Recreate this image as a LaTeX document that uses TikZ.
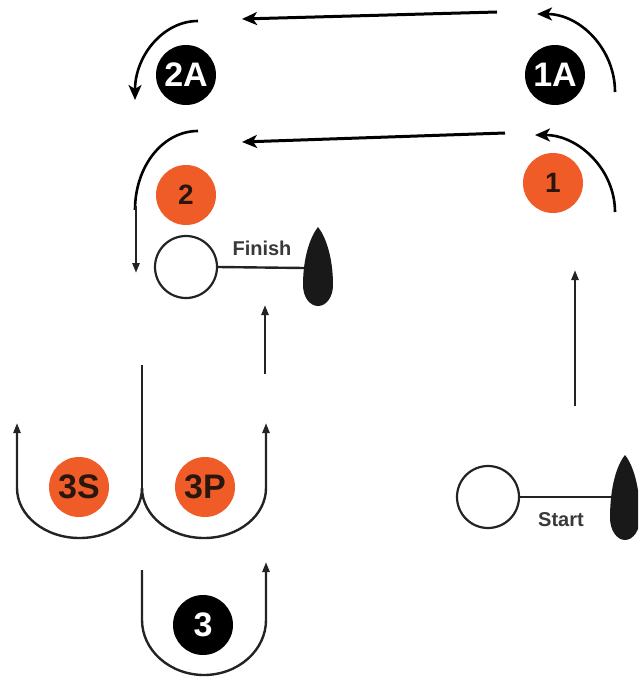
\documentclass[tikz,border=0pt]{standalone}
\usepackage{fontspec}
\setmainfont{Liberation Sans}
\usetikzlibrary{arrows.meta}
\definecolor{mkorange}{RGB}{240,92,40}
\definecolor{ink}{RGB}{35,35,35}
\definecolor{numdark}{RGB}{40,22,15}
\begin{document}
\begin{tikzpicture}[x=1pt,y=-1pt,
  buoyo/.style={circle,fill=mkorange,minimum size=60pt,inner sep=0pt,text=numdark,font=\bfseries\fontsize{28}{28}\selectfont},
  buoyb/.style={circle,fill=black,minimum size=60pt,inner sep=0pt,text=white,font=\bfseries\fontsize{34}{34}\selectfont},
  heavy/.style={line width=3pt,draw=black,-{Stealth[length=15pt,width=13pt,inset=4pt]}},
  heavyarc/.style={line width=2.6pt,draw=black},
  lite/.style={line width=2.4pt,draw=ink,-{Triangle[length=10pt,width=7pt]}},
  liteline/.style={line width=2.4pt,draw=ink},
  markcircle/.style={circle,draw=ink,line width=2.2pt,fill=white,minimum size=62pt,inner sep=0pt},
  boatlabel/.style={text=ink!90,font=\bfseries\fontsize{20}{20}\selectfont,inner sep=0pt}
]
\clip (0,0) rectangle (638,677);
\fill[white] (0,0) rectangle (638,677);

% buoys
\node[buoyb] (b1A) at (555,75) {1A};
\node[buoyb] (b2A) at (186,75) {2A};
\node[buoyo] (b1) at (553,183) {1};
\node[buoyo] (b2) at (186,195) {2};
\node[buoyo,font=\bfseries\fontsize{34}{34}\selectfont] (b3S) at (79,487) {3S};
\node[buoyo,font=\bfseries\fontsize{34}{34}\selectfont] (b3P) at (205,487) {3P};
\node[buoyb] (b3) at (203,625) {3};

% top legs
\coordinate (t1s) at (497,12);
\coordinate (t1e) at (242,19);
\coordinate (t2s) at (505,133);
\coordinate (t2e) at (242,142);
\draw[heavy] (t1s) -- (t1e);
\draw[heavy] (t2s) -- (t2e);

% rounding arcs
\coordinate (a1As) at (615,92);
\coordinate (a1Ae) at (537,14);
\draw[heavyarc,-{Stealth[length=15pt,width=13pt,inset=4pt]}] (a1As) .. controls (615,49) and (580,14) .. (a1Ae);
\coordinate (a1s) at (615,212);
\coordinate (a1e) at (535,135);
\draw[heavyarc,-{Stealth[length=15pt,width=13pt,inset=4pt]}] (a1s) .. controls (615,170) and (579,135) .. (a1e);
\coordinate (a2As) at (198,21);
\coordinate (a2Ae) at (135,100);
\draw[heavyarc,-{Stealth[length=15pt,width=13pt,inset=4pt]}] (a2As) .. controls (163,21) and (135,56) .. (a2Ae);
\coordinate (a2s) at (198,131);
\coordinate (a2m) at (135,210);
\coordinate (a2e) at (136,273);
\draw[heavyarc] (a2s) .. controls (163,131) and (135,166) .. (a2m);
\draw[lite] (136,206) -- (a2e);

% finish line
\node[markcircle] (fin) at (186,267) {};
\coordinate (fboat) at (304,268);
\draw[liteline] (fin.east) -- (fboat);
\fill[black!90] (318,227) .. controls (310,237) and (303,258) .. (303,285)
  .. controls (303,297) and (309.7,306) .. (318,306)
  .. controls (326.3,306) and (333,297) .. (333,285)
  .. controls (333,258) and (326,237) .. (318,227) -- cycle;
\node[boatlabel] (finlbl) at (262,248) {Finish};
\coordinate (fa1) at (265,374);
\coordinate (fa2) at (265,305);
\draw[lite] (fa1) -- (fa2);

% start line
\node[markcircle] (st) at (488,497) {};
\coordinate (sboat) at (611,497);
\draw[liteline] (st.east) -- (sboat);
\fill[black!90] (625,455) .. controls (617,465) and (610,486) .. (610,518)
  .. controls (610,530) and (616.7,540) .. (625,540)
  .. controls (633.3,540) and (640,530) .. (640,518)
  .. controls (640,486) and (633,465) .. (625,455) -- cycle;
\node[boatlabel] (stlbl) at (561,520) {Start};
\coordinate (sa1) at (575,406);
\coordinate (sa2) at (575,270);
\draw[lite] (sa1) -- (sa2);

% gate 3S / 3P
\coordinate (ctop) at (142,365);
\coordinate (cusp) at (142,488);
\draw[liteline] (ctop) -- (cusp);
\coordinate (l3S) at (17,423);
\coordinate (l3P) at (266,423);
\draw[lite] (cusp) .. controls (142,515.6) and (114,538) .. (79.5,538)
  .. controls (45,538) and (17,515.6) .. (17,488) -- (l3S);
\draw[lite] (cusp) .. controls (142,515.6) and (170,538) .. (204,538)
  .. controls (238.5,538) and (266,515.6) .. (266,488) -- (l3P);

% mark 3
\coordinate (u3s) at (142,570);
\coordinate (u3e) at (266,562);
\draw[lite] (u3s) -- (142,620) .. controls (142,650.4) and (170,675) .. (204,675)
  .. controls (238,675) and (266,650.4) .. (266,620) -- (u3e);
\end{tikzpicture}
\end{document}
